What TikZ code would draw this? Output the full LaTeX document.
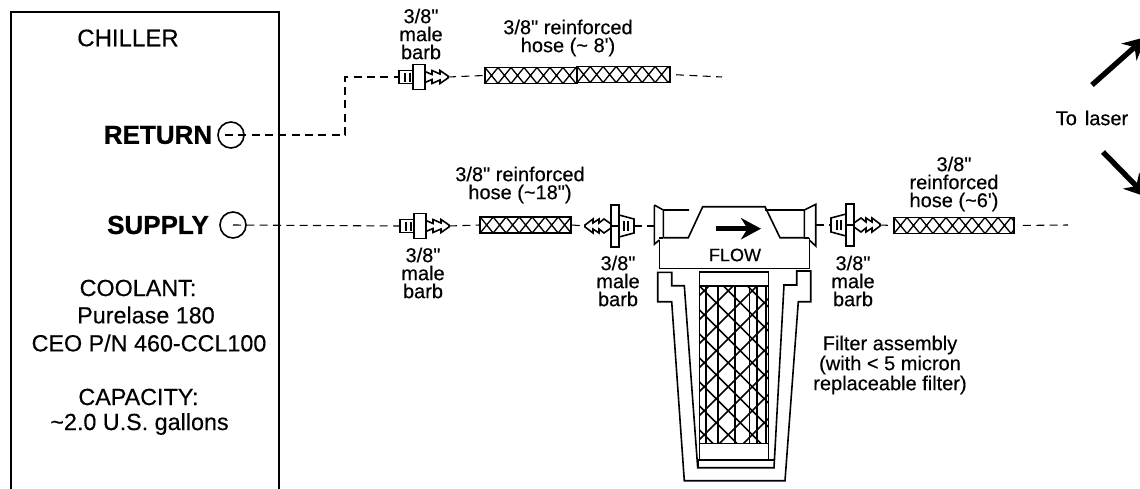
\documentclass[tikz,border=0pt]{standalone}
\usepackage{fontspec}
\setmainfont{Liberation Sans}[Ligatures=TeXOff,FakeBold=0.35,BoldFeatures={FakeBold=0.8}]
\usetikzlibrary{arrows.meta}
\tikzset{
  lbl/.style={align=center, inner sep=0pt, font=\fontsize{15}{13.5}\selectfont},
  big/.style={align=center, inner sep=0pt, font=\fontsize{17.5}{19.5}\selectfont},
  port/.style={draw, circle, inner sep=0pt, minimum size=19.5pt},
  pipe/.style={line width=0.8pt, dash pattern=on 6pt off 4pt},
  fat/.style={line width=4pt, -{Stealth[length=17pt,width=17pt]}},
  hose/.style={draw, line width=1.4pt, inner sep=0pt, minimum height=12pt, path picture={
      \foreach \d in {-2,...,12}
        \draw[line width=1pt] ([xshift=\d*9.75pt]path picture bounding box.south west) -- ++(13,-16)
            ([xshift=\d*9.75pt+9.75pt]path picture bounding box.south west) -- ++(-13,-16);
    }},
  straightbarb/.pic={
    \draw (-20,-6.5) rectangle (6,6.5);
    \draw[fill=white] (-6,-12.5) rectangle (6,12.5);
    \draw (-14,-4.5) -- (-14,4.5) (-9,-4.5) -- (-9,4.5);
    \draw (6,-5.5) -- (13,-2.5) -- (13,-6.5) -- (21,-3) -- (21,-6.5) -- (29,-1) -- (29,1)
      -- (21,6.5) -- (21,3) -- (13,6.5) -- (13,2.5) -- (6,5.5);
    \coordinate (-tail) at (-20,0);
    \coordinate (-tip) at (29,0);
  },
  flangebarb/.pic={
    \draw (-4,-21) rectangle (4,21) (-4,0) -- (4,0);
    \draw (-4,-11) -- (-19,-7) -- (-19,7) -- (-4,11);
    \draw (-13,-5) -- (-13,5) (-9,-5) -- (-9,5);
    \draw (4,-2) -- (11,-7) -- (16,-3) -- (16,-7) -- (22,-3) -- (22,-7) -- (30,-1) -- (30,1)
      -- (22,7) -- (22,3) -- (16,7) -- (16,3) -- (11,7) -- (4,2);
    \coordinate (-tail) at (-19,0);
    \coordinate (-tip) at (30,0);
  }
}
\begin{document}
\begin{tikzpicture}[x=0.75pt,y=-0.75pt,line width=1.2pt]
  \clip (0,0) rectangle (1140,489);

  \draw[line width=1.6pt] (11,489) -- (11,12) -- (279,12) -- (279,489);
  \node (chiller) [big, font=\fontsize{18}{20}\selectfont] at (128,38) {CHILLER};
  \node (returnlbl) [big, font=\fontsize{19.5}{20}\selectfont\bfseries] at (158,135) {RETURN};
  \node (supplylbl) [big, font=\fontsize{19.5}{20}\selectfont\bfseries] at (158,225) {SUPPLY};
  \node (retport) [port] at (231,135) {};
  \node (support) [port] at (233,225) {};
  \node (coolant) [big] at (138,288) {COOLANT:};
  \node (purelase) [big] at (146,315) {Purelase 180};
  \node (partno) [big] at (149,343) {CEO P/N 460-CCL100};
  \node (capacity) [big] at (138.5,397) {CAPACITY:};
  \node (gallons) [big] at (139.5,424) {\textasciitilde2.0 U.S. gallons};

  \pic (rb) at (419,77) {straightbarb};
  \pic (sb) at (420,226) {straightbarb};
  \pic[xscale=-1] (mb) at (615,226) {flangebarb};
  \pic (ob) at (850,225) {flangebarb};

  \node (hosea) [hose, minimum width=69pt] at (531,75.5) {};
  \node (hoseb) [hose, minimum width=69.5pt] at (623.5,74.5) {};
  \node (hoses) [hose, minimum width=68pt] at (525.5,225) {};
  \node (hosel) [hose, minimum width=90pt] at (954,225.5) {};

  \node (barbrlbl) [lbl] at (421,34) {3/8"\\male\\barb};
  \node (hoserlbl) [lbl] at (568,38) {3/8" reinforced\\hose (\textasciitilde{} 8')};
  \node (hoseslbl) [lbl] at (520,185) {3/8" reinforced\\hose (\textasciitilde18")};
  \node (barbslbl) [lbl] at (423,273) {3/8"\\male\\barb};
  \node (barbmlbl) [lbl] at (618,281) {3/8"\\male\\barb};
  \node (barbolbl) [lbl] at (853,281) {3/8"\\male\\barb};
  \node (hoselbl) [lbl] at (954,184) {3/8"\\reinforced\\hose (\textasciitilde6')};
  \node (filterlbl) [lbl] at (890,365) {Filter assembly\\(with < 5 micron\\replaceable filter)};
  \node (laserlbl) [lbl] at (1092,118) {To\hspace{6pt}laser};

  % filter head
  \draw (654.3,205) -- (663.3,210) -- (663.3,237.7) (654.3,205) -- (654.3,244.3) -- (659.3,240);
  \draw (663.3,210) -- (689,210) (663.3,237.7) -- (688.3,237.7) -- (702.7,206.7) -- (765,206.7) -- (780,237.7) -- (804.3,237.7);
  \draw (765,210) -- (804.3,210) -- (804.3,237.7) (804.3,210) -- (815.7,204.3) -- (815.7,246) -- (809.3,240);
  \draw (659.3,237.7) -- (663.3,237.7) (804.3,237.7) -- (809.3,237.7);
  \draw (659.3,240) -- (659.3,268.3) -- (809.3,268.3) -- (809.3,237.7);
  \node (flowlbl) [lbl, font=\fontsize{13.5}{15}\selectfont] at (735,255) {FLOW};
  \coordinate (flowtail) at (716,228.7);
  \coordinate (flowtip) at (761,228.7);
  \draw[fat, -{Stealth[length=15pt,width=16pt]}] (flowtail) -- (flowtip);
  \coordinate (filin) at (654,226);
  \coordinate (filout) at (816,225);

  % bowl and element
  \draw (657.7,272.3) -- (657.7,301.7) -- (671.7,301.7) -- (684.3,480.7) -- (785,480.7) -- (798.3,301.7) -- (810.7,301.7)
    -- (810.7,271) -- (796.7,271) -- (796.7,285) -- (784,285) -- (774,467.7) -- (697.7,467.7) -- (684.3,285.7) -- (671.7,285.7)
    -- (671.7,272.3) -- cycle;
  \draw (699.3,271.7) rectangle (768.3,459.3);
  \draw (697.7,460) -- (774,460) (697.7,460) -- (697.7,467.7);
  \draw (699.3,285.7) -- (768.3,285.7) (699.3,443.3) -- (768.3,443.3);
  \begin{scope}
    \clip (699.3,285.7) rectangle (768.3,443.3);
    \foreach \x in {706,717.7,735,749.3,756.7,765.7}
      \draw (\x,285.7) -- (\x,443.3);
    \foreach \d in {-12,-11,...,8}
      \draw (699.3+\d*24,285.7) -- ++(158,158) (699.3+\d*24+10,285.7) -- ++(-158,158);
  \end{scope}

  \coordinate (retcorner) at (345,135);
  \coordinate (retend) at (722,77);
  \coordinate (supend) at (1068,225);
  \draw[pipe] ([xshift=-4.5pt]retport.center) -- (retcorner) |- (rb-tail);
  \draw[pipe] (rb-tip) -- (hosea.west);
  \draw[pipe, shorten <=4pt] (hoseb.east) -- (retend);
  \draw[pipe] (support.center) -- (sb-tail);
  \draw[pipe] (sb-tip) -- (hoses.west);
  \draw[pipe] (hoses.east) -- (mb-tip);
  \draw[pipe] (mb-tail) -- (filin);
  \draw[pipe] (filout) -- (ob-tail);
  \draw[pipe] (ob-tip) -- (hosel.west);
  \draw[pipe, shorten <=6pt] (hosel.east) -- (supend);

  \coordinate (upfrom) at (1092,85);
  \coordinate (upto) at (1146,37);
  \coordinate (downfrom) at (1103,152);
  \coordinate (downto) at (1147,197);
  \draw[fat] (upfrom) -- (upto);
  \draw[fat] (downfrom) -- (downto);
\end{tikzpicture}
\end{document}
